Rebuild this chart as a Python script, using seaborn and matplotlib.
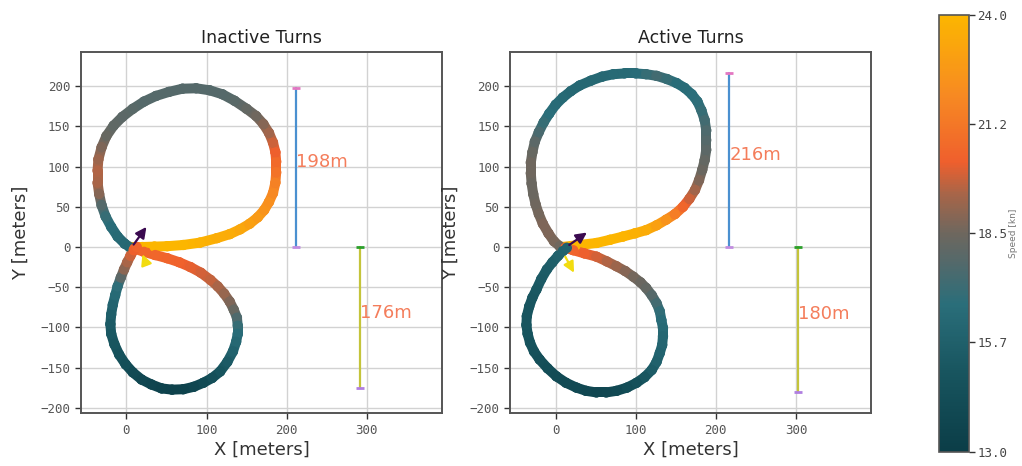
import matplotlib
matplotlib.use('Agg')
import numpy as np
import pandas as pd
import matplotlib.pyplot as plt
import seaborn as sns
from matplotlib.collections import LineCollection
from matplotlib.colors import LinearSegmentedColormap, Normalize
from matplotlib.cm import ScalarMappable

# ---- track data (meters, knots) ----
# Inactive turns: upper (port) loop
inact_up_x = [5, 20, 35, 51, 71, 92, 113, 129, 142, 154, 164, 172, 178, 183, 186, 187, 187, 186, 183, 178,
              171, 162, 150, 135, 120, 104, 87, 70, 53, 37, 22, 8, -5, -16, -25, -31, -35, -36, -36, -34,
              -31, -26, -19, -11, -2, 4]
inact_up_y = [0, 0, 0.5, 1, 2.5, 5.5, 11, 16, 22, 29, 37, 46, 56, 67, 80, 93, 106, 118, 130, 142,
              153, 163, 172, 182, 190, 195, 197.5, 197, 193, 188, 181, 172, 162, 151, 138, 124, 109, 95, 80, 66,
              52, 38, 25, 13, 4, 0]
inact_up_spd = [24, 24, 24, 24, 24, 23.8, 23.6, 23.5, 23.3, 23.0, 22.7, 22.4, 22.2, 21.9, 21.6, 21.1, 20.7, 20.3, 19.9, 19.4,
                18.9, 18.5, 18.2, 17.9, 17.8, 17.8, 17.8, 17.8, 17.8, 17.8, 17.8, 17.9, 18.0, 18.1, 18.3, 18.8, 19.3, 19.6, 19.5, 18.9,
                17.8, 17.0, 16.6, 16.4, 16.3, 16.2]
# Inactive turns: lower (starboard) loop
inact_lo_x = [10, 22, 36, 51, 66, 80, 93, 105, 114, 122, 129, 134, 138, 139, 139, 137, 133, 126, 117, 107,
              96, 84, 71, 57, 44, 31, 19, 8, -1, -9, -15, -19, -20, -19, -17, -14, -11, -7, -3, 1,
              5, 9, 13]
inact_lo_y = [-2, -6, -10, -14, -19, -25, -32, -41, -49, -58, -68, -78, -88, -98, -108, -118, -130, -143, -155, -163,
              -169, -174, -177, -177.5, -176, -171, -165, -156, -146, -134, -121, -108, -96, -84, -72, -60, -49, -38, -28, -19,
              -11, -4, 0]
inact_lo_spd = [20.6, 20.6, 20.6, 20.5, 20.4, 20.2, 20.0, 19.8, 19.5, 19.2, 18.8, 18.3, 17.6, 17.0, 16.6, 16.3, 15.9, 15.4, 14.9, 14.5,
                14.1, 13.8, 13.5, 13.4, 13.5, 13.7, 13.9, 14.1, 14.4, 14.7, 15.0, 15.2, 15.4, 15.7, 16.0, 16.4, 16.8, 18.0, 19.0, 19.5,
                19.9, 20.3, 20.5]

# Active turns: upper loop
act_up_x = [8, 25, 51, 68, 84, 99, 113, 126, 138, 149, 159, 167, 174, 179, 183, 186, 188, 188, 188, 186,
            182, 177, 170, 161, 151, 139, 126, 113, 100, 86, 72, 58, 44, 30, 19, 9, 0, -8, -15, -21,
            -26, -29, -31, -31, -30, -28, -25, -21, -16, -9, -2, 5]
act_up_y = [0, 2, 5, 9, 13, 17, 21, 27, 34, 41, 50, 60, 71, 83, 96, 108, 121, 133, 145, 158,
            170, 181, 190, 198, 204, 209, 213, 215, 216, 216, 215, 212, 207, 201, 194, 186, 177, 166, 155, 143,
            131, 118, 105, 92, 79, 66, 53, 41, 29, 17, 7, 1]
act_up_spd = [24, 24, 24, 24, 23.9, 23.7, 23.5, 23.0, 22.4, 21.5, 20.6, 19.9, 19.4, 18.8, 18.4, 18.2, 18.0, 17.8, 17.6, 17.3,
              17.0, 16.8, 16.7, 16.6, 16.6, 17.0, 17.3, 17.0, 16.6, 16.4, 16.4, 16.3, 16.3, 16.3, 16.3, 16.4, 16.5, 16.7, 17.0, 17.5,
              18.0, 18.3, 18.5, 18.5, 18.4, 18.4, 18.5, 18.6, 18.8, 18.8, 18.7, 18.5]
# Active turns: lower loop
act_lo_x = [12, 22, 36, 51, 64, 76, 87, 97, 106, 113, 120, 126, 130, 132, 134, 134, 133, 130, 126, 120,
            111, 101, 89, 76, 63, 51, 38, 26, 13, 1, -10, -20, -27, -32, -35, -36.5, -36, -33, -29, -24,
            -18, -11, -4, 3, 9, 14]
act_lo_y = [-1, -4, -8, -12, -18, -24, -30, -37, -44, -51, -60, -70, -80, -91, -101, -111, -122, -132, -143, -153,
            -162, -169, -175, -179, -181, -181, -179, -175, -169, -161, -151, -140, -130, -119, -108, -97, -86, -74, -63, -53,
            -40, -28, -19, -11, -5, -1]
act_lo_spd = [20.5, 20.5, 20.3, 20.0, 19.6, 19.3, 18.9, 18.6, 18.4, 18.2, 17.8, 17.3, 16.9, 16.6, 16.4, 16.2, 16.1, 16.0, 15.8, 15.5,
              15.1, 14.6, 14.3, 14.0, 13.9, 13.8, 13.9, 14.0, 14.1, 14.2, 14.3, 14.5, 14.7, 14.8, 14.9, 15.0, 15.0, 15.0, 15.1, 15.2,
              15.4, 15.5, 15.6, 15.8, 15.9, 16.0]

# measured loop sizes: (x of bar, height, label)
inact_bars = [(211.5, 198, '198m'), (291.5, -176, '176m')]
act_bars = [(217, 216, '216m'), (303, -180, '180m')]

# heading arrows: (tail, tip)
inact_arrows = [((9, 3), (25, 25)), ((25, -22), (20, -9))]
act_arrows = [((17, 2.5), (39, 18)), ((12, -12), (23, -32))]

panel_titles = ['Inactive Turns', 'Active Turns']
cbar_ticks = [13.0, 15.75, 18.5, 21.25, 24.0]
cbar_ticklabels = ['13.0', '15.7', '18.5', '21.2', '24.0']

# ---- style ----
sns.set_style('whitegrid')
plt.rcParams['font.family'] = ['DejaVu Sans']

spd_min, spd_max = 13.0, 24.0
node_vals = [13.0, 15.0, 16.7, 17.8, 18.5, 19.5, 20.3, 22.0, 24.0]
node_cols = ['#0b3d47', '#18555f', '#2a6e7a', '#55696a', '#6e675e', '#a86548', '#ef5f2d', '#f78a22', '#fcb600']
speed_cmap = LinearSegmentedColormap.from_list(
    'speed', [((v - spd_min) / (spd_max - spd_min), c) for v, c in zip(node_vals, node_cols)])
norm = Normalize(spd_min, spd_max)


def draw_track(ax, xs, ys, spd):
    xs, ys, spd = np.asarray(xs), np.asarray(ys), np.asarray(spd)
    pts = np.column_stack([xs, ys]).reshape(-1, 1, 2)
    segs = np.concatenate([pts[:-1], pts[1:]], axis=1)
    seg_spd = (spd[:-1] + spd[1:]) / 2
    lc = LineCollection(segs, colors=speed_cmap(norm(seg_spd)), linewidths=7.2,
                        capstyle='round', joinstyle='round', zorder=3)
    ax.add_collection(lc)
    df = pd.DataFrame({'x': xs, 'y': ys, 'speed': spd})
    sns.scatterplot(data=df, x='x', y='y', hue='speed', palette=speed_cmap, hue_norm=norm,
                    s=55, linewidth=0, legend=False, ax=ax, zorder=4)


def style_panel(ax, title):
    ax.set_xlim(-57, 394)
    ax.set_ylim(-207, 243)
    ax.set_xticks([0, 100, 200, 300])
    ax.set_yticks(np.arange(-200, 201, 50))
    ax.grid(True, color='#d2d2d2', linewidth=1.0)
    for sp in ax.spines.values():
        sp.set_visible(True)
        sp.set_color('#555555')
        sp.set_linewidth(1.4)
    ax.tick_params(axis='both', which='major', direction='out', length=4, width=1,
                   color='#333333', labelcolor='#555555', left=True, bottom=True)
    for lab in ax.get_xticklabels() + ax.get_yticklabels():
        lab.set_fontfamily('DejaVu Sans Mono')
        lab.set_fontsize(9)
    ax.set_xlabel('X [meters]', fontsize=13, color='#333333')
    ax.set_ylabel('Y [meters]', fontsize=13, color='#333333')
    ax.xaxis.set_label_coords(0.5, -0.075)
    ax.yaxis.set_label_coords(-0.14, 0.5)
    ax.set_title(title, fontsize=12.5, color='#222222', pad=6)


def draw_bars(ax, bars):
    line_cols = ['#4a90d0', '#c4c43a']
    cap_cols = [('#e377c2', '#c28de0'), ('#2ca02c', '#b07fe0')]
    for (bx, h, lab), lc, (c_end, c_start) in zip(bars, line_cols, cap_cols):
        ax.plot([bx, bx], [0, h], color=lc, lw=1.6, zorder=2)
        ax.plot([bx], [h], marker='_', color=c_end if h > 0 else c_start, ms=6, mew=2, zorder=2)
        ax.plot([bx], [0], marker='_', color=c_start if h > 0 else c_end, ms=6, mew=2, zorder=2)
        ax.text(bx, h / 2, lab, color='#f47d5b', fontsize=13, ha='left', va='baseline', zorder=5)


def draw_arrows(ax, arrows):
    for (tail, tip), col in zip(arrows, ['#3b0a50', '#f2dc10']):
        ax.annotate('', xy=tip, xytext=tail,
                    arrowprops=dict(arrowstyle='-|>', color=col, lw=1.6, mutation_scale=16,
                                    shrinkA=0, shrinkB=0), zorder=6)


fig = plt.figure(figsize=(10.22, 4.66), dpi=100)
ax_l = fig.add_axes([0.079, 0.113, 0.3535, 0.776])
ax_r = fig.add_axes([0.499, 0.113, 0.3535, 0.776])
cax = fig.add_axes([0.919, 0.031, 0.029, 0.937])

draw_track(ax_l, inact_up_x, inact_up_y, inact_up_spd)
draw_track(ax_l, inact_lo_x, inact_lo_y, inact_lo_spd)
draw_bars(ax_l, inact_bars)
draw_arrows(ax_l, inact_arrows)
style_panel(ax_l, panel_titles[0])

draw_track(ax_r, act_up_x, act_up_y, act_up_spd)
draw_track(ax_r, act_lo_x, act_lo_y, act_lo_spd)
draw_bars(ax_r, act_bars)
draw_arrows(ax_r, act_arrows)
style_panel(ax_r, panel_titles[1])

sm = ScalarMappable(norm=norm, cmap=speed_cmap)
cb = fig.colorbar(sm, cax=cax, ticks=cbar_ticks)
cb.ax.set_yticklabels(cbar_ticklabels)
cb.outline.set_edgecolor('#555555')
cb.outline.set_linewidth(1.2)
cb.ax.tick_params(length=4, width=1, color='#333333', labelcolor='#444444', pad=2)
for lab in cb.ax.get_yticklabels():
    lab.set_fontfamily('DejaVu Sans Mono')
    lab.set_fontsize(9)
cb.set_label('Speed [kn]', fontsize=6.5, color='#777777', labelpad=1)

fig.savefig('out.png', dpi=100)
